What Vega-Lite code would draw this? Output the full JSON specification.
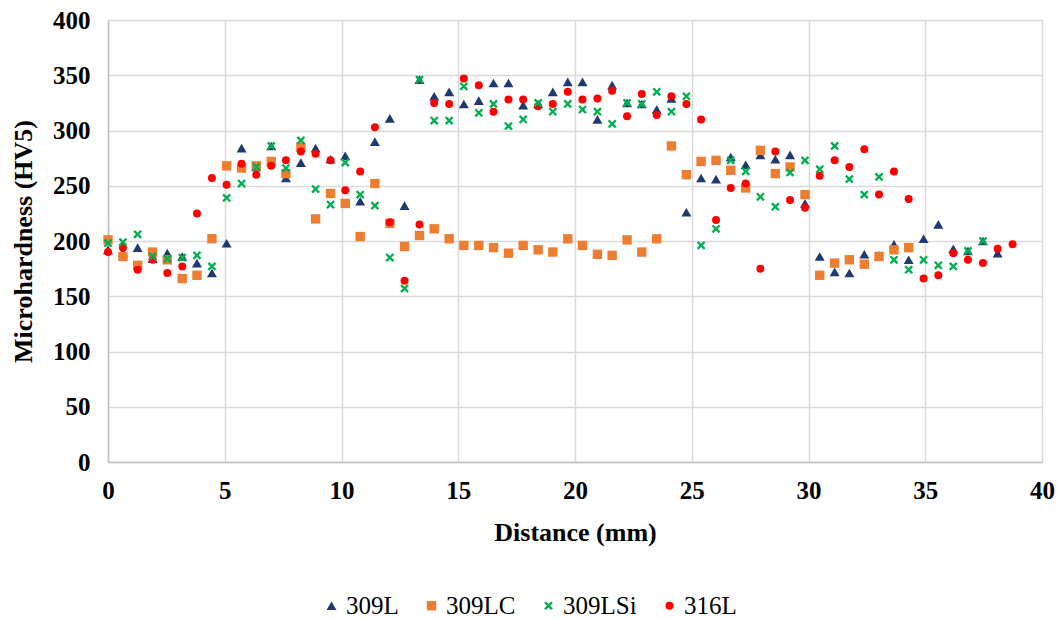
{
  "$schema": "https://vega.github.io/schema/vega-lite/v6.json",
  "width": 934,
  "height": 442,
  "autosize": {"type": "none"},
  "padding": {"left": 108, "top": 20, "right": 16, "bottom": 157},
  "background": "white",
  "config": {
    "view": {"stroke": null},
    "font": "Liberation Serif, Times New Roman, DejaVu Serif, serif",
    "axis": {
      "labelFont": "Liberation Serif, Times New Roman, DejaVu Serif, serif",
      "labelFontWeight": "bold",
      "labelColor": "black",
      "labelFontSize": 25,
      "titleFont": "Liberation Serif, Times New Roman, DejaVu Serif, serif",
      "titleFontWeight": "bold",
      "titleColor": "black",
      "titleFontSize": 26,
      "gridColor": "#D9D9D9",
      "gridWidth": 1.5,
      "domainColor": "#BFBFBF",
      "domainWidth": 1.5,
      "ticks": false
    },
    "legend": {
      "labelFont": "Liberation Serif, Times New Roman, DejaVu Serif, serif",
      "labelFontSize": 25,
      "labelColor": "black"
    }
  },
  "data": {
    "values": [
      {"d":0,"s":"309L","h":192},{"d":0.64,"s":"309L","h":189},{"d":1.27,"s":"309L","h":194},{"d":1.91,"s":"309L","h":184},{"d":2.54,"s":"309L","h":189},{"d":3.18,"s":"309L","h":186},{"d":3.81,"s":"309L","h":180},{"d":4.45,"s":"309L","h":171},{"d":5.08,"s":"309L","h":198},{"d":5.72,"s":"309L","h":284},{"d":6.35,"s":"309L","h":267},{"d":6.99,"s":"309L","h":286},{"d":7.62,"s":"309L","h":257},{"d":8.26,"s":"309L","h":271},{"d":8.89,"s":"309L","h":284},{"d":9.53,"s":"309L","h":274},{"d":10.16,"s":"309L","h":277},{"d":10.8,"s":"309L","h":236},{"d":11.43,"s":"309L","h":290},{"d":12.07,"s":"309L","h":311},{"d":12.7,"s":"309L","h":232},{"d":13.34,"s":"309L","h":346},{"d":13.97,"s":"309L","h":331},{"d":14.61,"s":"309L","h":335},{"d":15.24,"s":"309L","h":324},{"d":15.88,"s":"309L","h":327},{"d":16.51,"s":"309L","h":343},{"d":17.15,"s":"309L","h":343},{"d":17.78,"s":"309L","h":323},{"d":18.42,"s":"309L","h":324},{"d":19.05,"s":"309L","h":335},{"d":19.69,"s":"309L","h":344},{"d":20.32,"s":"309L","h":344},{"d":20.96,"s":"309L","h":310},{"d":21.59,"s":"309L","h":341},{"d":22.23,"s":"309L","h":325},{"d":22.86,"s":"309L","h":324},{"d":23.5,"s":"309L","h":319},{"d":24.13,"s":"309L","h":329},{"d":24.77,"s":"309L","h":226},{"d":25.4,"s":"309L","h":257},{"d":26.04,"s":"309L","h":256},{"d":26.67,"s":"309L","h":276},{"d":27.31,"s":"309L","h":269},{"d":27.94,"s":"309L","h":278},{"d":28.58,"s":"309L","h":274},{"d":29.21,"s":"309L","h":278},{"d":29.85,"s":"309L","h":234},{"d":30.48,"s":"309L","h":186},{"d":31.12,"s":"309L","h":172},{"d":31.75,"s":"309L","h":171},{"d":32.39,"s":"309L","h":188},{"d":33.02,"s":"309L","h":187},{"d":33.66,"s":"309L","h":197},{"d":34.29,"s":"309L","h":183},{"d":34.93,"s":"309L","h":202},{"d":35.56,"s":"309L","h":215},{"d":36.2,"s":"309L","h":193},{"d":36.83,"s":"309L","h":191},{"d":37.47,"s":"309L","h":200},{"d":38.1,"s":"309L","h":189},
      {"d":0,"s":"309LC","h":201},{"d":0.64,"s":"309LC","h":186},{"d":1.27,"s":"309LC","h":178},{"d":1.91,"s":"309LC","h":190},{"d":2.54,"s":"309LC","h":183},{"d":3.18,"s":"309LC","h":166},{"d":3.81,"s":"309LC","h":169},{"d":4.45,"s":"309LC","h":202},{"d":5.08,"s":"309LC","h":268},{"d":5.72,"s":"309LC","h":266},{"d":6.35,"s":"309LC","h":268},{"d":6.99,"s":"309LC","h":272},{"d":7.62,"s":"309LC","h":261},{"d":8.26,"s":"309LC","h":285},{"d":8.89,"s":"309LC","h":220},{"d":9.53,"s":"309LC","h":243},{"d":10.16,"s":"309LC","h":234},{"d":10.8,"s":"309LC","h":204},{"d":11.43,"s":"309LC","h":252},{"d":12.07,"s":"309LC","h":216},{"d":12.7,"s":"309LC","h":195},{"d":13.34,"s":"309LC","h":205},{"d":13.97,"s":"309LC","h":211},{"d":14.61,"s":"309LC","h":202},{"d":15.24,"s":"309LC","h":196},{"d":15.88,"s":"309LC","h":196},{"d":16.51,"s":"309LC","h":194},{"d":17.15,"s":"309LC","h":189},{"d":17.78,"s":"309LC","h":196},{"d":18.42,"s":"309LC","h":192},{"d":19.05,"s":"309LC","h":190},{"d":19.69,"s":"309LC","h":202},{"d":20.32,"s":"309LC","h":196},{"d":20.96,"s":"309LC","h":188},{"d":21.59,"s":"309LC","h":187},{"d":22.23,"s":"309LC","h":201},{"d":22.86,"s":"309LC","h":190},{"d":23.5,"s":"309LC","h":202},{"d":24.13,"s":"309LC","h":286},{"d":24.77,"s":"309LC","h":260},{"d":25.4,"s":"309LC","h":272},{"d":26.04,"s":"309LC","h":273},{"d":26.67,"s":"309LC","h":264},{"d":27.31,"s":"309LC","h":248},{"d":27.94,"s":"309LC","h":282},{"d":28.58,"s":"309LC","h":261},{"d":29.21,"s":"309LC","h":267},{"d":29.85,"s":"309LC","h":242},{"d":30.48,"s":"309LC","h":169},{"d":31.12,"s":"309LC","h":180},{"d":31.75,"s":"309LC","h":183},{"d":32.39,"s":"309LC","h":179},{"d":33.02,"s":"309LC","h":186},{"d":33.66,"s":"309LC","h":192},{"d":34.29,"s":"309LC","h":194},
      {"d":0,"s":"316L","h":190},{"d":0.64,"s":"316L","h":194},{"d":1.27,"s":"316L","h":174},{"d":1.91,"s":"316L","h":183},{"d":2.54,"s":"316L","h":171},{"d":3.18,"s":"316L","h":177},{"d":3.81,"s":"316L","h":225},{"d":4.45,"s":"316L","h":257},{"d":5.08,"s":"316L","h":251},{"d":5.72,"s":"316L","h":270},{"d":6.35,"s":"316L","h":260},{"d":6.99,"s":"316L","h":268},{"d":7.62,"s":"316L","h":273},{"d":8.26,"s":"316L","h":281},{"d":8.89,"s":"316L","h":279},{"d":9.53,"s":"316L","h":273},{"d":10.16,"s":"316L","h":246},{"d":10.8,"s":"316L","h":263},{"d":11.43,"s":"316L","h":303},{"d":12.07,"s":"316L","h":217},{"d":12.7,"s":"316L","h":164},{"d":13.34,"s":"316L","h":215},{"d":13.97,"s":"316L","h":325},{"d":14.61,"s":"316L","h":324},{"d":15.24,"s":"316L","h":347},{"d":15.88,"s":"316L","h":341},{"d":16.51,"s":"316L","h":317},{"d":17.15,"s":"316L","h":328},{"d":17.78,"s":"316L","h":328},{"d":18.42,"s":"316L","h":322},{"d":19.05,"s":"316L","h":324},{"d":19.69,"s":"316L","h":335},{"d":20.32,"s":"316L","h":328},{"d":20.96,"s":"316L","h":329},{"d":21.59,"s":"316L","h":336},{"d":22.23,"s":"316L","h":313},{"d":22.86,"s":"316L","h":333},{"d":23.5,"s":"316L","h":314},{"d":24.13,"s":"316L","h":331},{"d":24.77,"s":"316L","h":324},{"d":25.4,"s":"316L","h":310},{"d":26.04,"s":"316L","h":219},{"d":26.67,"s":"316L","h":248},{"d":27.31,"s":"316L","h":252},{"d":27.94,"s":"316L","h":175},{"d":28.58,"s":"316L","h":281},{"d":29.21,"s":"316L","h":237},{"d":29.85,"s":"316L","h":230},{"d":30.48,"s":"316L","h":259},{"d":31.12,"s":"316L","h":273},{"d":31.75,"s":"316L","h":267},{"d":32.39,"s":"316L","h":283},{"d":33.02,"s":"316L","h":242},{"d":33.66,"s":"316L","h":263},{"d":34.29,"s":"316L","h":238},{"d":34.93,"s":"316L","h":166},{"d":35.56,"s":"316L","h":169},{"d":36.2,"s":"316L","h":189},{"d":36.83,"s":"316L","h":183},{"d":37.47,"s":"316L","h":180},{"d":38.1,"s":"316L","h":193},{"d":38.74,"s":"316L","h":197},
      {"d":0,"s":"309LSi","h":198},{"d":0.64,"s":"309LSi","h":199},{"d":1.27,"s":"309LSi","h":206},{"d":1.91,"s":"309LSi","h":186},{"d":2.54,"s":"309LSi","h":184},{"d":3.18,"s":"309LSi","h":185},{"d":3.81,"s":"309LSi","h":187},{"d":4.45,"s":"309LSi","h":177},{"d":5.08,"s":"309LSi","h":239},{"d":5.72,"s":"309LSi","h":252},{"d":6.35,"s":"309LSi","h":267},{"d":6.99,"s":"309LSi","h":286},{"d":7.62,"s":"309LSi","h":266},{"d":8.26,"s":"309LSi","h":291},{"d":8.89,"s":"309LSi","h":247},{"d":9.53,"s":"309LSi","h":233},{"d":10.16,"s":"309LSi","h":271},{"d":10.8,"s":"309LSi","h":242},{"d":11.43,"s":"309LSi","h":232},{"d":12.07,"s":"309LSi","h":185},{"d":12.7,"s":"309LSi","h":157},{"d":13.34,"s":"309LSi","h":346},{"d":13.97,"s":"309LSi","h":309},{"d":14.61,"s":"309LSi","h":309},{"d":15.24,"s":"309LSi","h":340},{"d":15.88,"s":"309LSi","h":316},{"d":16.51,"s":"309LSi","h":324},{"d":17.15,"s":"309LSi","h":304},{"d":17.78,"s":"309LSi","h":310},{"d":18.42,"s":"309LSi","h":325},{"d":19.05,"s":"309LSi","h":317},{"d":19.69,"s":"309LSi","h":324},{"d":20.32,"s":"309LSi","h":319},{"d":20.96,"s":"309LSi","h":317},{"d":21.59,"s":"309LSi","h":306},{"d":22.23,"s":"309LSi","h":325},{"d":22.86,"s":"309LSi","h":324},{"d":23.5,"s":"309LSi","h":335},{"d":24.13,"s":"309LSi","h":317},{"d":24.77,"s":"309LSi","h":331},{"d":25.4,"s":"309LSi","h":196},{"d":26.04,"s":"309LSi","h":211},{"d":26.67,"s":"309LSi","h":273},{"d":27.31,"s":"309LSi","h":263},{"d":27.94,"s":"309LSi","h":240},{"d":28.58,"s":"309LSi","h":231},{"d":29.21,"s":"309LSi","h":262},{"d":29.85,"s":"309LSi","h":273},{"d":30.48,"s":"309LSi","h":265},{"d":31.12,"s":"309LSi","h":286},{"d":31.75,"s":"309LSi","h":256},{"d":32.39,"s":"309LSi","h":242},{"d":33.02,"s":"309LSi","h":258},{"d":33.66,"s":"309LSi","h":183},{"d":34.29,"s":"309LSi","h":174},{"d":34.93,"s":"309LSi","h":183},{"d":35.56,"s":"309LSi","h":178},{"d":36.2,"s":"309LSi","h":177},{"d":36.83,"s":"309LSi","h":191},{"d":37.47,"s":"309LSi","h":200}
    ]
  },
  "mark": {"type": "point", "filled": true, "opacity": 1, "strokeWidth": 0},
  "encoding": {
    "x": {
      "field": "d", "type": "quantitative",
      "scale": {"domain": [0, 40], "nice": false},
      "axis": {"values": [0,5,10,15,20,25,30,35,40], "title": "Distance (mm)", "labelPadding": 16, "titlePadding": 16, "labelFlush": false}
    },
    "y": {
      "field": "h", "type": "quantitative",
      "scale": {"domain": [0, 400], "nice": false},
      "axis": {"values": [0,50,100,150,200,250,300,350,400], "title": "Microhardness (HV5)", "labelPadding": 18, "titlePadding": 16, "labelFlush": false}
    },
    "color": {
      "field": "s", "type": "nominal",
      "scale": {"domain": ["309L","309LC","309LSi","316L"], "range": ["#1F3A70","#ED7D31","#00B050","#FF0000"]},
      "legend": {"title": null, "orient": "none", "direction": "horizontal", "legendX": 211, "legendY": 573, "symbolSize": 64, "labelOffset": 2, "columnPadding": 20, "symbolStrokeWidth": 0}
    },
    "shape": {
      "field": "s", "type": "nominal",
      "scale": {"domain": ["309L","309LC","309LSi","316L"], "range": ["triangle-up","square","M-1,-0.62L-0.62,-1L0,-0.38L0.62,-1L1,-0.62L0.38,0L1,0.62L0.62,1L0,0.38L-0.62,1L-1,0.62L-0.38,0Z","circle"]},
      "legend": {"title": null, "orient": "none", "direction": "horizontal", "legendX": 211, "legendY": 573, "symbolSize": 64, "labelOffset": 2, "columnPadding": 20, "symbolStrokeWidth": 0}
    },
    "size": {
      "field": "s", "type": "nominal",
      "scale": {"domain": ["309L","309LC","309LSi","316L"], "range": [100, 64, 81, 121]},
      "legend": null
    }
  }
}
